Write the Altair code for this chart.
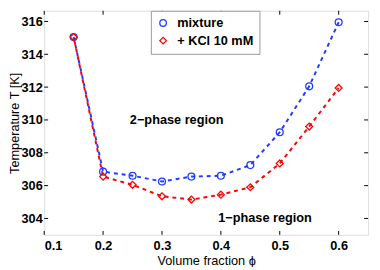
import altair as alt
import pandas as pd

phi = [0.15, 0.2, 0.25, 0.3, 0.35, 0.4, 0.45, 0.5, 0.55, 0.6]
mixture = [315.05, 306.85, 306.6, 306.25, 306.55, 306.6, 307.25, 309.25, 312.05, 315.95]
kcl = [315.05, 306.55, 306.05, 305.35, 305.15, 305.45, 305.9, 307.35, 309.6, 311.95]
series_names = ["mixture", "+ KCl 10 mM"]
x_ticks = [0.1, 0.2, 0.3, 0.4, 0.5, 0.6]
y_ticks = [304, 306, 308, 310, 312, 314, 316]
annot_text = ["2\u2212phase region", "1\u2212phase region"]
annot_x = [0.325, 0.475]
annot_y = [310.0, 304.0]

PADL = 37
W, H = 331, 229
FONT = "Liberation Sans"

df = pd.DataFrame(
    {"phi": phi * 2,
     "T": mixture + kcl,
     "series": [series_names[0]] * len(phi) + [series_names[1]] * len(phi)}
)
xt = pd.DataFrame({"v": x_ticks})
yt = pd.DataFrame({"v": y_ticks})
ann = pd.DataFrame({"t": annot_text, "x": annot_x, "y": annot_y})

xs = alt.Scale(domain=[0.1, 0.65], nice=False)
ys = alt.Scale(domain=[303, 316.65], nice=False)

color = alt.Color("series:N", scale=alt.Scale(domain=series_names, range=["#1f3cff", "#ff0000"]),
                  legend=alt.Legend(title=None, orient="none", legendX=109, legendY=0,
                                    strokeColor="#999999", fillColor="white", padding=6,
                                    labelFont=FONT, labelFontSize=13, labelFontWeight="bold",
                                    labelColor="black", rowPadding=4, symbolSize=45,
                                    symbolStrokeWidth=1.3, labelOffset=8))
shape = alt.Shape("series:N", scale=alt.Scale(domain=series_names, range=["circle", "diamond"]),
                  legend=None)

AX = dict(grid=False, ticks=False, domain=False, labelOverlap=False,
          labelFont=FONT, labelFontSize=13, labelFontWeight="bold", labelColor="black",
          titleFont=FONT, titleFontSize=13, titleFontWeight="normal", titleColor="black")

xaxis = alt.Axis(title="Volume fraction \u03d5", values=x_ticks, format=".1f",
                 labelPadding=5, titlePadding=2, **AX)
yaxis = alt.Axis(title="Temperature T [K]", values=y_ticks, format="d",
                 labelPadding=2, titlePadding=0, **AX)

xenc = alt.X("phi:Q", scale=xs, axis=xaxis)
yenc = alt.Y("T:Q", scale=ys, axis=yaxis)

base = alt.Chart(df)
line_mix = base.transform_filter(alt.datum.series == series_names[0]).mark_line(
    strokeDash=[4, 4], strokeWidth=2, color="#1f3cff").encode(x=xenc, y=yenc)
line_kcl = base.transform_filter(alt.datum.series == series_names[1]).mark_line(
    strokeDash=[4, 4], strokeDashOffset=4, strokeWidth=2, color="#ff0000").encode(x=xenc, y=yenc)
pts = base.mark_point(filled=False, strokeWidth=1.3, size=50, opacity=1).encode(
    x=xenc, y=yenc, color=color, shape=shape)

tick_b = alt.Chart(xt).mark_rule(color="black").encode(
    x=alt.X("v:Q", scale=xs, axis=xaxis), y=alt.value(H), y2=alt.value(H - 4))
tick_t = alt.Chart(xt).mark_rule(color="black").encode(
    x=alt.X("v:Q", scale=xs, axis=xaxis), y=alt.value(0), y2=alt.value(4))
tick_l = alt.Chart(yt).mark_rule(color="black").encode(
    y=alt.Y("v:Q", scale=ys, axis=yaxis), x=alt.value(0), x2=alt.value(4))
tick_r = alt.Chart(yt).mark_rule(color="black").encode(
    y=alt.Y("v:Q", scale=ys, axis=yaxis), x=alt.value(W), x2=alt.value(W - 4))

txt = alt.Chart(ann).mark_text(font=FONT, fontSize=13, fontWeight="bold", color="black").encode(
    x=alt.X("x:Q", scale=xs, axis=xaxis), y=alt.Y("y:Q", scale=ys, axis=yaxis), text="t:N")

chart = alt.layer(line_mix, line_kcl, pts, txt, tick_b, tick_t, tick_l, tick_r).properties(
    width=W, height=H,
    autosize=alt.AutoSizeParams(type="none"),
    padding={"left": PADL, "top": 0, "right": 4, "bottom": 30},
).configure_view(stroke="black", strokeWidth=1).configure(background="white")

chart.save("out.html", embed_options={"renderer": "svg", "actions": False})
